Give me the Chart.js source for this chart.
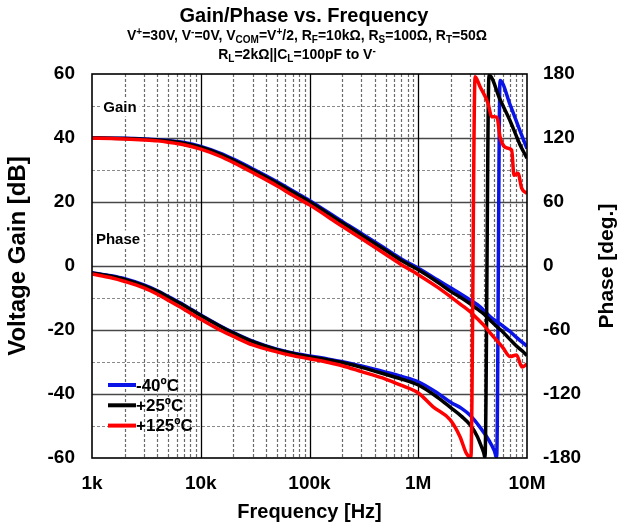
<!DOCTYPE html>
<html>
<head>
<meta charset="utf-8">
<script src="https://cdn.jsdelivr.net/npm/chart.js"></script>
<style>
  html, body { margin: 0; padding: 0; background: #fff; }
</style>
</head>
<body>
<canvas id="chart" width="619" height="524"></canvas>
<script>
const FONT = "'Liberation Sans', Arial, Helvetica, sans-serif";

// Gain curves (dB) - all three temps share the same frequency points (Hz)
const gainFreq = [1e3, 1.5e3, 2e3, 3e3, 4e3, 5e3, 7e3, 1e4, 1.5e4, 2e4, 3e4, 5e4, 7e4, 1e5, 2e5, 3e5, 5e5, 7e5,
                  1e6, 1.5e6, 2e6, 2.5e6, 3e6, 3.5e6, 4e6, 4.6e6, 5.5e6, 6e6, 7e6, 8e6, 9e6, 1e7];
const gainM40 = [40.0, 39.95, 39.9, 39.7, 39.45, 39.2, 38.6, 37.4, 35.3, 33.4, 30.4, 26.4, 23.5, 20.5, 13.9, 10.2, 5.4, 2.2,
                 -0.7, -4.3, -6.9, -8.9, -10.6, -12.1, -13.8, -15.9, -17.8, -18.8, -20.5, -22.3, -23.8, -25.0];
const gain25 = [40.0, 39.95, 39.85, 39.6, 39.35, 39.05, 38.4, 37.1, 35.0, 33.0, 30.0, 26.0, 23.1, 20.1, 13.5, 9.7, 4.9, 1.7,
                -1.2, -5.0, -8.0, -10.0, -11.8, -13.5, -15.0, -17.0, -19.5, -20.6, -23.0, -25.0, -26.5, -28.0];
const gain125 = [39.9, 39.85, 39.7, 39.4, 39.1, 38.7, 37.9, 36.5, 34.3, 32.3, 29.2, 25.1, 22.1, 19.1, 12.4, 8.6, 3.7, 0.4,
                 -2.7, -6.6, -9.7, -12.2, -14.3, -16.5, -18.5, -21.0, -24.0, -25.5, -28.3, -27.8, -31.6, -30.6];

// Phase curves (deg) - each wraps from -180 to +180 near the top end
const phaseFreqM40 = [1e3, 1.5e3, 2e3, 3e3, 4e3, 5e3, 7e3, 1e4, 1.5e4, 2e4, 3e4, 5e4, 7e4, 1e5, 1.5e5, 2e5, 3e5, 5e5, 7e5,
                      1e6, 1.5e6, 2e6, 2.5e6, 3e6, 3.5e6, 4e6, 4.5e6, 5e6, 5.26e6,
                      5.65e6, 7e6, 8.6e6, 1e7];
const phaseM40 = [-6.2, -9.2, -12, -17.8, -23.3, -28.5, -36.5, -46, -56, -62.5, -70.5, -78, -81.5, -84.3, -87.3, -89.7, -93.8, -99.5, -103.5,
                  -108.5, -119, -128, -133.5, -140, -148, -156, -164, -173, -179.5,
                  174, 151, 127, 110];
const phaseFreq25 = [1e3, 1.5e3, 2e3, 3e3, 4e3, 5e3, 7e3, 1e4, 1.5e4, 2e4, 3e4, 5e4, 7e4, 1e5, 1.5e5, 2e5, 3e5, 5e5, 7e5,
                     1e6, 1.5e6, 2e6, 2.5e6, 3e6, 3.5e6, 3.7e6, 4e6, 4.11e6,
                     4.47e6, 5.65e6, 7e6, 8.6e6, 1e7];
const phase25 = [-6.5, -9.5, -12.5, -18.3, -23.8, -29, -37, -46.5, -56.5, -63, -71, -78.5, -82, -85, -88, -90.5, -95, -101.5, -106,
                 -111.6, -123, -133, -141, -149, -160, -166, -175, -179.5,
                 179, 156, 136, 114, 101];
const phaseFreq125 = [1e3, 1.5e3, 2e3, 3e3, 4e3, 5e3, 7e3, 1e4, 1.5e4, 2e4, 3e4, 5e4, 7e4, 1e5, 1.5e5, 2e5, 3e5, 5e5, 7e5,
                      1e6, 1.37e6, 1.96e6, 2.42e6, 2.78e6, 3.05e6,
                      3.33e6, 3.7e6, 4.38e6, 4.73e6, 5.3e6, 5.65e6, 6.55e6, 7.23e6, 7.59e6, 8.26e6, 8.93e6, 1e7];
const phase125 = [-7.5, -11, -14.5, -20.5, -26.5, -32, -40.5, -50, -60, -66, -74, -80.5, -84, -87, -90.5, -93.5, -99, -106, -112,
                  -119, -132, -144, -160, -176, -179.5,
                  177.5, 168, 152.6, 140, 139.6, 121, 110.6, 108.7, 85, 87, 73, 68];

const seriesLabels = ['-40ºC', '+25ºC', '+125ºC'];
const seriesColors = ['#0a14e6', '#000000', '#ff0000'];

const xTickValues = [1e3, 1e4, 1e5, 1e6, 1e7];
const xTickLabels = ['1k', '10k', '100k', '1M', '10M'];
const gainTicks = [-60, -40, -20, 0, 20, 40, 60];
const phaseTicks = [-180, -120, -60, 0, 60, 120, 180];

function pts(xs, ys) {
    return xs.map((x, i) => ({ x: x, y: ys[i] }));
}

const gainSets = [gainM40, gain25, gain125];
const phaseSets = [[phaseFreqM40, phaseM40], [phaseFreq25, phase25], [phaseFreq125, phase125]];

let datasets = [];
seriesLabels.forEach((lab, i) => {
    const common = {
        borderColor: seriesColors[i],
        borderWidth: 3.5,
        pointRadius: 0,
        fill: false,
        cubicInterpolationMode: 'monotone',
        order: 2 - i   // red ends up on top
    };
    datasets.push(Object.assign({ label: lab + ' gain', yAxisID: 'y', data: pts(gainFreq, gainSets[i]) }, common));
    datasets.push(Object.assign({ label: lab + ' phase', yAxisID: 'y2', data: pts(phaseSets[i][0], phaseSets[i][1]) }, common));
});

// rich text: parts = [text, 0 normal | 1 superscript | -1 subscript]
function drawRich(ctx, parts, cx, baseY, size) {
    const small = Math.round(size * 0.7);
    let w = 0;
    parts.forEach(p => {
        ctx.font = 'bold ' + (p[1] ? small : size) + 'px ' + FONT;
        w += ctx.measureText(p[0]).width;
    });
    let x = cx - w / 2;
    ctx.textAlign = 'left';
    ctx.textBaseline = 'alphabetic';
    parts.forEach(p => {
        ctx.font = 'bold ' + (p[1] ? small : size) + 'px ' + FONT;
        const dy = p[1] === 1 ? -size * 0.38 : (p[1] === -1 ? size * 0.22 : 0);
        ctx.fillText(p[0], x, baseY + dy);
        x += ctx.measureText(p[0]).width;
    });
}

function drawVertical(ctx, text, cx, cy, size) {
    ctx.save();
    ctx.translate(cx, cy);
    ctx.rotate(-Math.PI / 2);
    ctx.font = 'bold ' + size + 'px ' + FONT;
    ctx.textAlign = 'center';
    ctx.textBaseline = 'middle';
    ctx.fillText(text, 0, 0);
    ctx.restore();
}

const subLine1 = [['V', 0], ['+', 1], ['=30V, V', 0], ['-', 1], ['=0V, V', 0], ['COM', -1], ['=V', 0], ['+', 1],
                  ['/2, R', 0], ['F', -1], ['=10kΩ, R', 0], ['S', -1], ['=100Ω, R', 0], ['T', -1], ['=50Ω', 0]];
const subLine2 = [['R', 0], ['L', -1], ['=2kΩ||C', 0], ['L', -1], ['=100pF to V', 0], ['-', 1]];

const decor = {
    id: 'decor',
    beforeDatasetsDraw(chart) {
        const { ctx, chartArea: a, scales } = chart;
        const x = scales.x, y = scales.y;
        ctx.save();
        // horizontal grid, every 10 dB
        for (let v = -50; v <= 50; v += 10) {
            const py = Math.round(y.getPixelForValue(v)) + 0.5;
            const major = v % 20 === 0;
            ctx.beginPath();
            ctx.setLineDash(major ? [] : [3, 2]);
            ctx.strokeStyle = major ? '#484848' : '#8a8a8a';
            ctx.lineWidth = major ? 1.6 : 1.2;
            ctx.moveTo(a.left, py);
            ctx.lineTo(a.right, py);
            ctx.stroke();
        }
        // vertical grid, 1-2-3..9 per decade
        for (let d = 1e3; d < 1e7; d *= 10) {
            for (let m = 1; m < 10; m++) {
                if (m === 1 && d === 1e3) continue;
                const px = Math.round(x.getPixelForValue(d * m)) + 0.5;
                ctx.beginPath();
                if (m === 1) {
                    ctx.setLineDash([]);
                    ctx.strokeStyle = '#000';
                    ctx.lineWidth = 1.3;
                } else {
                    ctx.setLineDash([3, 2]);
                    ctx.strokeStyle = '#6a6a6a';
                    ctx.lineWidth = 1.2;
                }
                ctx.moveTo(px, a.top);
                ctx.lineTo(px, a.bottom);
                ctx.stroke();
            }
        }
        ctx.setLineDash([]);
        // Gain / Phase labels on white boxes
        ctx.font = 'bold 15px ' + FONT;
        ctx.textAlign = 'center';
        ctx.textBaseline = 'middle';
        [['Gain', a.left + 28, y.getPixelForValue(50) + 1.5], ['Phase', a.left + 26, y.getPixelForValue(10) + 5.5]].forEach(t => {
            const w = ctx.measureText(t[0]).width;
            ctx.fillStyle = '#fff';
            ctx.fillRect(t[1] - w / 2 - 3, t[2] - 9, w + 6, 18);
            ctx.fillStyle = '#000';
            ctx.fillText(t[0], t[1], t[2]);
        });
        ctx.restore();
    },
    afterDatasetsDraw(chart) {
        const { ctx, chartArea: a } = chart;
        ctx.save();
        // plot frame
        ctx.strokeStyle = '#000';
        ctx.lineWidth = 1.6;
        ctx.strokeRect(a.left, a.top, a.right - a.left, a.bottom - a.top);
        // legend, lower left inside the plot
        ctx.font = 'bold 17px ' + FONT;
        ctx.textAlign = 'left';
        ctx.textBaseline = 'middle';
        seriesLabels.forEach((lab, i) => {
            const ly = a.bottom - 73 + i * 20.3;
            ctx.strokeStyle = seriesColors[i];
            ctx.lineWidth = 4;
            ctx.beginPath();
            ctx.moveTo(a.left + 16, ly);
            ctx.lineTo(a.left + 44, ly);
            ctx.stroke();
            ctx.fillStyle = '#000';
            ctx.fillText(lab, a.left + 44, ly + 1);
        });
        ctx.restore();
    },
    afterDraw(chart) {
        const { ctx, chartArea: a } = chart;
        ctx.save();
        ctx.fillStyle = '#000';
        ctx.font = 'bold 20px ' + FONT;
        ctx.textAlign = 'center';
        ctx.textBaseline = 'alphabetic';
        ctx.fillText('Gain/Phase vs. Frequency', 304, 22);
        drawRich(ctx, subLine1, 307, 40, 14);
        drawRich(ctx, subLine2, 297, 59, 14);
        // axis titles, both reading bottom-to-top
        drawVertical(ctx, 'Voltage Gain [dB]', 18, 256, 24);
        drawVertical(ctx, 'Phase [deg.]', 607, (a.top + a.bottom) / 2, 21);
        ctx.restore();
    }
};

const tickFont = { family: FONT, size: 19, weight: 'bold' };

new Chart(document.getElementById('chart'), {
    type: 'line',
    data: { datasets: datasets },
    plugins: [decor],
    options: {
        responsive: false,
        animation: false,
        layout: { padding: { top: 74, left: 0, right: 0, bottom: 0 } },
        plugins: {
            legend: { display: false },
            tooltip: { enabled: false },
            title: { display: false }
        },
        scales: {
            x: {
                type: 'logarithmic',
                min: 1e3,
                max: 1e7,
                grid: { display: false, drawTicks: false },
                border: { display: false },
                afterBuildTicks: s => { s.ticks = xTickValues.map(v => ({ value: v })); },
                afterFit: s => { s.height = 66; },
                ticks: {
                    autoSkip: false,
                    maxRotation: 0,
                    padding: 14,
                    color: '#000',
                    font: tickFont,
                    callback: v => xTickLabels[xTickValues.indexOf(v)]
                },
                title: {
                    display: true,
                    text: 'Frequency [Hz]',
                    color: '#000',
                    font: { family: FONT, size: 20, weight: 'bold' },
                    padding: { top: 1, bottom: 0 }
                }
            },
            y: {
                position: 'left',
                min: -60,
                max: 60,
                grid: { display: false, drawTicks: false },
                border: { display: false },
                afterBuildTicks: s => { s.ticks = gainTicks.map(v => ({ value: v })); },
                afterFit: s => { s.width = 92; },
                ticks: { padding: 17, color: '#000', font: tickFont }
            },
            y2: {
                position: 'right',
                min: -180,
                max: 180,
                grid: { display: false, drawTicks: false },
                border: { display: false },
                afterBuildTicks: s => { s.ticks = phaseTicks.map(v => ({ value: v })); },
                afterFit: s => { s.width = 92; },
                ticks: { padding: 16, color: '#000', font: tickFont }
            }
        }
    }
});
</script>
</body>
</html>
